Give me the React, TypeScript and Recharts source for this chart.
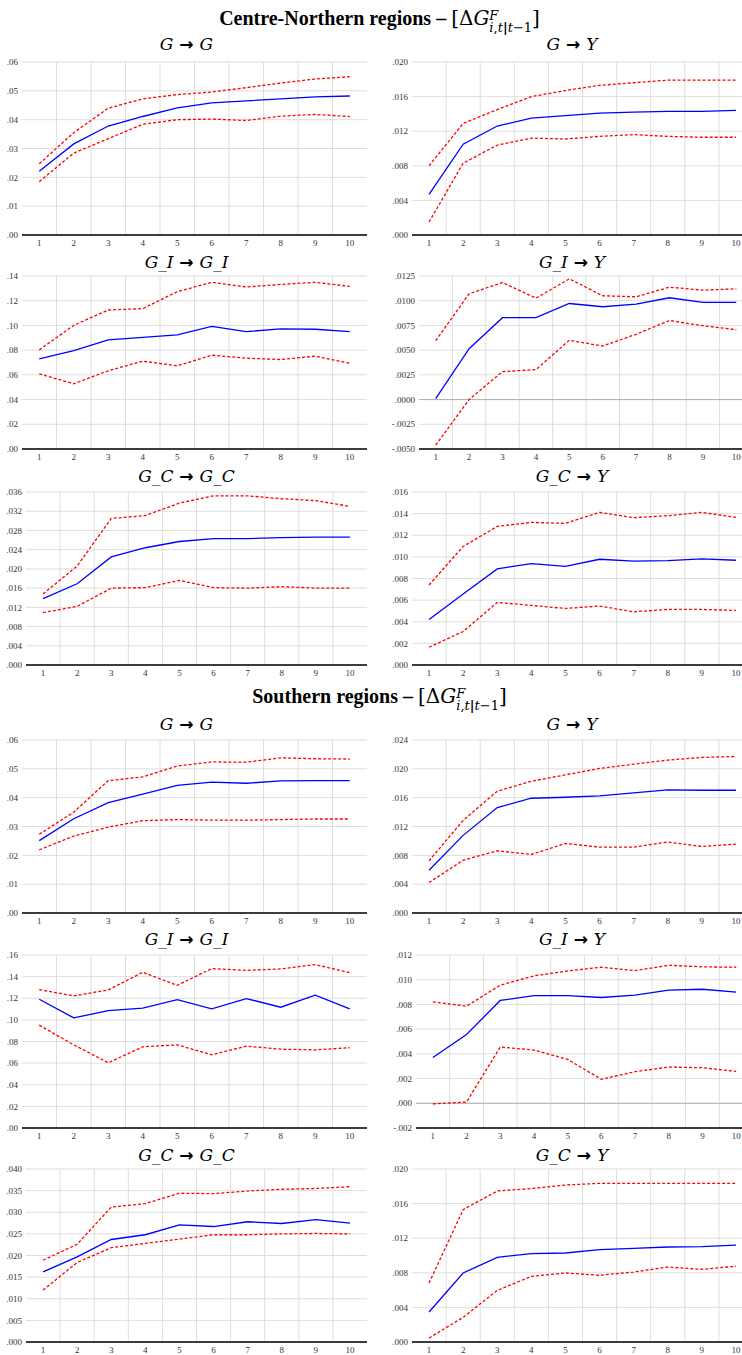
import { LineChart, Line, XAxis, YAxis, CartesianGrid, ReferenceLine } from 'recharts';

const horizons = [1, 2, 3, 4, 5, 6, 7, 8, 9, 10];
const gridBreaks = [1.5, 2.5, 3.5, 4.5, 5.5, 6.5, 7.5, 8.5, 9.5];

// Centre-Northern regions
const cnGG_mid = [0.0221, 0.0316, 0.0378, 0.0411, 0.0441, 0.0458, 0.0465, 0.0472, 0.0479, 0.0482];
const cnGG_up = [0.0247, 0.0355, 0.044, 0.0472, 0.0487, 0.0496, 0.0511, 0.0527, 0.0541, 0.0549];
const cnGG_lo = [0.0185, 0.0284, 0.0334, 0.0384, 0.04, 0.0402, 0.0397, 0.0412, 0.0418, 0.0411];

const cnGY_mid = [0.0047, 0.0105, 0.0126, 0.0135, 0.0138, 0.0141, 0.0142, 0.0143, 0.0143, 0.0144];
const cnGY_up = [0.008, 0.0129, 0.0145, 0.016, 0.0167, 0.0173, 0.0176, 0.0179, 0.0179, 0.0179];
const cnGY_lo = [0.0015, 0.0083, 0.0104, 0.0112, 0.0111, 0.0114, 0.0116, 0.0114, 0.0113, 0.0113];

const cnGIGI_mid = [0.0729, 0.0797, 0.0883, 0.0904, 0.0923, 0.0993, 0.095, 0.0972, 0.0969, 0.095];
const cnGIGI_up = [0.0802, 0.1001, 0.1125, 0.1136, 0.1273, 0.1349, 0.1311, 0.1332, 0.1349, 0.1316];
const cnGIGI_lo = [0.0608, 0.0528, 0.0633, 0.0711, 0.0673, 0.0759, 0.0735, 0.0724, 0.0751, 0.0694];

const cnGIY_mid = [0.0001, 0.00515, 0.00828, 0.00828, 0.00972, 0.00939, 0.00966, 0.0103, 0.00983, 0.00983];
const cnGIY_up = [0.00596, 0.0107, 0.01184, 0.01026, 0.01221, 0.0105, 0.0104, 0.01137, 0.01107, 0.0112];
const cnGIY_lo = [-0.00461, 0.0, 0.00283, 0.00303, 0.00599, 0.00542, 0.0066, 0.008, 0.00747, 0.00707];

const cnGCGC_mid = [0.0138, 0.0169, 0.0225, 0.0244, 0.0257, 0.0263, 0.0263, 0.0265, 0.0266, 0.0266];
const cnGCGC_up = [0.0148, 0.0206, 0.0305, 0.0311, 0.0337, 0.0352, 0.0352, 0.0346, 0.0342, 0.033];
const cnGCGC_lo = [0.0109, 0.0122, 0.016, 0.0161, 0.0176, 0.0161, 0.016, 0.0163, 0.016, 0.016];

const cnGCY_mid = [0.00421, 0.00656, 0.00889, 0.00938, 0.00913, 0.00978, 0.0096, 0.00966, 0.00981, 0.00969];
const cnGCY_up = [0.0074, 0.01096, 0.01282, 0.01319, 0.0131, 0.01412, 0.01362, 0.01381, 0.01412, 0.01365];
const cnGCY_lo = [0.00164, 0.0031, 0.00579, 0.00551, 0.00523, 0.00545, 0.00492, 0.00514, 0.00514, 0.00505];

// Southern regions
const sGG_mid = [0.0251, 0.0327, 0.0383, 0.0412, 0.0443, 0.0454, 0.045, 0.0458, 0.0459, 0.0459];
const sGG_up = [0.0273, 0.035, 0.0459, 0.0472, 0.051, 0.0524, 0.0523, 0.0538, 0.0535, 0.0534];
const sGG_lo = [0.0219, 0.0267, 0.0298, 0.032, 0.0324, 0.0322, 0.0322, 0.0324, 0.0326, 0.0326];

const sGY_mid = [0.00594, 0.01077, 0.01462, 0.01592, 0.01606, 0.01624, 0.01666, 0.01708, 0.01703, 0.01703];
const sGY_up = [0.00724, 0.01285, 0.01689, 0.01828, 0.01916, 0.02005, 0.02065, 0.02121, 0.02158, 0.02172];
const sGY_lo = [0.00422, 0.00733, 0.00863, 0.00812, 0.00965, 0.00914, 0.00914, 0.00984, 0.00923, 0.00956];

const sGIGI_mid = [0.1191, 0.1018, 0.1086, 0.1108, 0.1188, 0.1102, 0.1197, 0.1117, 0.1228, 0.1102];
const sGIGI_up = [0.128, 0.1222, 0.1277, 0.144, 0.132, 0.1474, 0.1458, 0.1471, 0.1511, 0.1437];
const sGIGI_lo = [0.0951, 0.0769, 0.0603, 0.0751, 0.0769, 0.0677, 0.0757, 0.0729, 0.0723, 0.0742];

const sGIY_mid = [0.00371, 0.00557, 0.00832, 0.00872, 0.00872, 0.00856, 0.00875, 0.00915, 0.00923, 0.00899];
const sGIY_up = [0.00821, 0.00786, 0.00956, 0.01031, 0.01071, 0.01101, 0.01074, 0.01117, 0.01104, 0.01101];
const sGIY_lo = [-0.00005, 0.0001, 0.00455, 0.00431, 0.00355, 0.00194, 0.00256, 0.00293, 0.00288, 0.00258];

const sGCGC_mid = [0.0162, 0.0197, 0.0237, 0.0248, 0.0271, 0.0267, 0.0278, 0.0274, 0.0283, 0.0275];
const sGCGC_up = [0.0189, 0.0226, 0.0312, 0.032, 0.0344, 0.0343, 0.0349, 0.0353, 0.0355, 0.0359];
const sGCGC_lo = [0.012, 0.0184, 0.0218, 0.0228, 0.0238, 0.0248, 0.0248, 0.025, 0.0251, 0.025];

const sGCY_mid = [0.00347, 0.00798, 0.00979, 0.01021, 0.01029, 0.01067, 0.01083, 0.01098, 0.01102, 0.01121];
const sGCY_up = [0.00682, 0.0153, 0.01746, 0.01773, 0.01815, 0.01834, 0.01834, 0.01834, 0.01834, 0.01834];
const sGCY_lo = [0.00046, 0.00285, 0.00597, 0.00759, 0.00798, 0.00771, 0.00809, 0.00867, 0.0084, 0.00875];

// y tick values per panel
const ticksG2 = [0, 0.01, 0.02, 0.03, 0.04, 0.05, 0.06];
const ticksCnGY = [0, 0.004, 0.008, 0.012, 0.016, 0.02];
const ticksCnGIGI = [0, 0.02, 0.04, 0.06, 0.08, 0.1, 0.12, 0.14];
const ticksCnGIY = [-0.005, -0.0025, 0, 0.0025, 0.005, 0.0075, 0.01, 0.0125];
const ticksCnGCGC = [0, 0.004, 0.008, 0.012, 0.016, 0.02, 0.024, 0.028, 0.032, 0.036];
const ticksCnGCY = [0, 0.002, 0.004, 0.006, 0.008, 0.01, 0.012, 0.014, 0.016];
const ticksSGY = [0, 0.004, 0.008, 0.012, 0.016, 0.02, 0.024];
const ticksSGIGI = [0, 0.02, 0.04, 0.06, 0.08, 0.1, 0.12, 0.14, 0.16];
const ticksSGIY = [-0.002, 0, 0.002, 0.004, 0.006, 0.008, 0.01, 0.012];
const ticksSGCGC = [0, 0.005, 0.01, 0.015, 0.02, 0.025, 0.03, 0.035, 0.04];
const ticksSGCY = [0, 0.004, 0.008, 0.012, 0.016, 0.02];

type Panel = {
  title: string;
  mid: number[];
  up: number[];
  lo: number[];
  ticks: number[];
  dec: number;
  yw: number;
  zero?: boolean;
};

const PLOT_H = 173;
const TOP_M = 5;
const X_H = 18;
const SERIF = '"Liberation Serif", "Times New Roman", serif';

const fmt = (dec: number) => (v: number) => {
  const s = Math.abs(v).toFixed(dec).replace(/^0/, '');
  return (v < -1e-12 ? '-' : '') + s;
};

const tickStyle = { fontSize: 9, fill: '#333', fontFamily: SERIF };

function IrfPanel({ p, left, width, plotTop, titleY, titleX }: { p: Panel; left: number; width: number; plotTop: number; titleY: number; titleX: number }) {
  const data = horizons.map((h, i) => ({ h, mid: p.mid[i], up: p.up[i], lo: p.lo[i] }));
  const lo = p.ticks[0];
  const hi = p.ticks[p.ticks.length - 1];
  return (
    <>
      <div
        style={{
          position: 'absolute',
          left: titleX - 100,
          width: 200,
          top: titleY - 10,
          textAlign: 'center',
          fontFamily: '"DejaVu Serif", serif',
          fontStyle: 'italic',
          fontSize: 17,
          lineHeight: '20px',
          color: '#000',
          whiteSpace: 'nowrap',
        }}
      >
        {p.title.split(' → ').map((part, i) => (
          <span key={i}>
            {i > 0 && <span style={{ fontStyle: 'normal', fontWeight: 'bold', fontFamily: '"DejaVu Sans", sans-serif' }}> → </span>}
            {part}
          </span>
        ))}
      </div>
      <div style={{ position: 'absolute', left, top: plotTop - TOP_M }}>
        <LineChart width={width} height={TOP_M + PLOT_H + X_H} data={data} margin={{ top: TOP_M, right: 4, bottom: 0, left: 0 }}>
          <CartesianGrid stroke="#dedede" strokeWidth={1} verticalValues={gridBreaks} />
          <XAxis
            type="number"
            dataKey="h"
            domain={[0.5, 10.5]}
            ticks={horizons}
            interval={0}
            height={X_H}
            tickSize={0}
            tickMargin={5}
            tick={tickStyle}
            axisLine={{ stroke: '#000', strokeWidth: 1.4 }}
            allowDataOverflow
          />
          <YAxis
            type="number"
            domain={[lo, hi]}
            ticks={p.ticks}
            interval={0}
            width={p.yw}
            tickSize={0}
            tickMargin={4}
            axisLine={false}
            tick={tickStyle}
            tickFormatter={fmt(p.dec)}
            allowDataOverflow
          />
          {p.zero && <ReferenceLine y={0} stroke="#b0b0b0" strokeWidth={1} />}
          <Line type="linear" dataKey="up" stroke="#ff0000" strokeWidth={1.3} strokeDasharray="3 2" dot={false} isAnimationActive={false} />
          <Line type="linear" dataKey="lo" stroke="#ff0000" strokeWidth={1.3} strokeDasharray="3 2" dot={false} isAnimationActive={false} />
          <Line type="linear" dataKey="mid" stroke="#0000ff" strokeWidth={1.3} dot={false} isAnimationActive={false} />
        </LineChart>
      </div>
    </>
  );
}

const centrePanels: Panel[] = [
  { title: 'G → G', mid: cnGG_mid, up: cnGG_up, lo: cnGG_lo, ticks: ticksG2, dec: 2, yw: 22 },
  { title: 'G → Y', mid: cnGY_mid, up: cnGY_up, lo: cnGY_lo, ticks: ticksCnGY, dec: 3, yw: 41 },
  { title: 'G_I → G_I', mid: cnGIGI_mid, up: cnGIGI_up, lo: cnGIGI_lo, ticks: ticksCnGIGI, dec: 2, yw: 22 },
  { title: 'G_I → Y', mid: cnGIY_mid, up: cnGIY_up, lo: cnGIY_lo, ticks: ticksCnGIY, dec: 4, yw: 48, zero: true },
  { title: 'G_C → G_C', mid: cnGCGC_mid, up: cnGCGC_up, lo: cnGCGC_lo, ticks: ticksCnGCGC, dec: 3, yw: 26 },
  { title: 'G_C → Y', mid: cnGCY_mid, up: cnGCY_up, lo: cnGCY_lo, ticks: ticksCnGCY, dec: 3, yw: 41 },
];

const southPanels: Panel[] = [
  { title: 'G → G', mid: sGG_mid, up: sGG_up, lo: sGG_lo, ticks: ticksG2, dec: 2, yw: 22 },
  { title: 'G → Y', mid: sGY_mid, up: sGY_up, lo: sGY_lo, ticks: ticksSGY, dec: 3, yw: 41 },
  { title: 'G_I → G_I', mid: sGIGI_mid, up: sGIGI_up, lo: sGIGI_lo, ticks: ticksSGIGI, dec: 2, yw: 22 },
  { title: 'G_I → Y', mid: sGIY_mid, up: sGIY_up, lo: sGIY_lo, ticks: ticksSGIY, dec: 3, yw: 45, zero: true },
  { title: 'G_C → G_C', mid: sGCGC_mid, up: sGCGC_up, lo: sGCGC_lo, ticks: ticksSGCGC, dec: 3, yw: 26 },
  { title: 'G_C → Y', mid: sGCY_mid, up: sGCY_up, lo: sGCY_lo, ticks: ticksSGCY, dec: 3, yw: 41 },
];

const plotTops = [61.7, 276, 491.7, 740, 955, 1169.3];
const titleYs = [44, 261.5, 475.5, 724, 939, 1155];

function SectionTitle({ label, top }: { label: string; top: number }) {
  return (
    <div
      style={{
        position: 'absolute',
        left: 0,
        width: 759,
        top,
        textAlign: 'center',
        fontSize: 20,
        lineHeight: '24px',
        whiteSpace: 'nowrap',
        color: '#000',
      }}
    >
      <span style={{ fontFamily: SERIF, fontWeight: 'bold' }}>{label} – </span>
      <span style={{ fontFamily: '"DejaVu Serif", serif' }}>
        [Δ<i>G</i>
        <span style={{ display: 'inline-block', verticalAlign: '-7px', fontSize: 13, lineHeight: '12px', textAlign: 'left' }}>
          <i>F</i>
          <br />
          <i>i</i>,<i>t</i>
          <b>|</b>
          <i>t</i>−1
        </span>
        ]
      </span>
    </div>
  );
}

export default function App() {
  const sections = [
    { panels: centrePanels, rows: [0, 1, 2] },
    { panels: southPanels, rows: [3, 4, 5] },
  ];
  return (
    <div style={{ position: 'absolute', left: 0, top: 0, width: 742, height: 1355, overflow: 'hidden', background: '#fff', fontFamily: SERIF }}>
      <style>{`html, body { margin: 0; padding: 0; overflow: hidden; } .recharts-cartesian-axis-tick-value { font-family: ${SERIF}; }`}</style>
      <SectionTitle label="Centre-Northern regions" top={6} />
      <SectionTitle label="Southern regions" top={684} />
      {sections.map((s, si) =>
        s.panels.map((p, i) => {
          const row = s.rows[Math.floor(i / 2)];
          const right = i % 2 === 1;
          return (
            <IrfPanel
              key={`${si}-${i}`}
              p={p}
              left={right ? 371 : 0}
              width={right ? 386 : 371}
              plotTop={plotTops[row]}
              titleY={titleYs[row]}
              titleX={right ? 572 : 186.5}
            />
          );
        })
      )}
    </div>
  );
}
